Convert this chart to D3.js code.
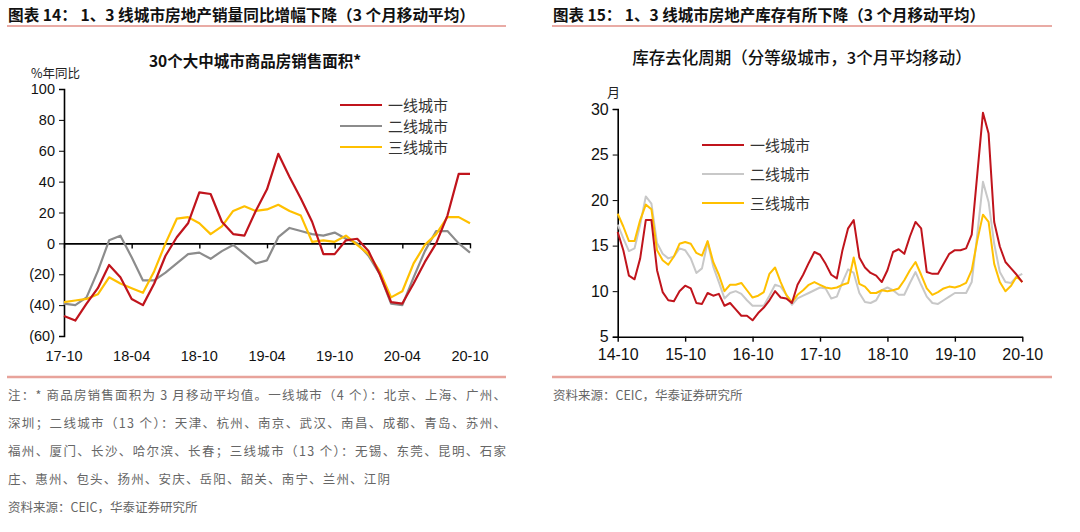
<!DOCTYPE html>
<html>
<head>
<meta charset="utf-8">
<script src="https://cdn.jsdelivr.net/npm/d3@7"></script>
<style>
  body { margin: 0; background: #fff; }
  svg { display: block; }
  .cjk { font-family: "Noto Sans CJK SC", sans-serif; }
  .num { font-family: "Liberation Sans", Arial, sans-serif; }
</style>
</head>
<body>
<svg id="chart"></svg>
<script>
// left chart: 30 city sales area, % yoy, 17-10 .. 20-10 monthly
const leftTicks = ["17-10", "18-04", "18-10", "19-04", "19-10", "20-04", "20-10"];
const leftYTicks = [-60, -40, -20, 0, 20, 40, 60, 80, 100];
const leftTier1 = [-47,-50,-39,-29,-14,-22,-36,-40,-26,-8,4,13,33,32,14,6,5,21,35,58,43,29,14,-7,-7,2,3,-5,-20,-38,-39,-26,-12,0,18,45,45];
const leftTier2 = [-39,-40,-35,-18,2,5,-9,-24,-24,-19,-13,-7,-6,-10,-5,-1,-7,-13,-11,4,10,8,6,5,7,3,0,-8,-20,-39,-40,-22,-5,8,8,0,-6];
const leftTier3 = [-38,-37,-36,-33,-22,-26,-29,-32,-18,0,16,17,13,6,11,21,24,21,22,25,21,18,1,2,1,5,-1,-7,-18,-35,-31,-13,-1,6,17,17,13];

// right chart: inventory cycle in months, 14-10 .. 20-10 monthly
const rightTicks = ["14-10", "15-10", "16-10", "17-10", "18-10", "19-10", "20-10"];
const rightYTicks = [5, 10, 15, 20, 25, 30];
const rightTier1 = [16.5,14.5,11.7,11.3,13.6,17.8,17.8,12.3,9.9,9.0,8.9,10.0,10.6,10.3,8.7,8.6,9.8,9.5,9.7,8.4,8.7,8.0,7.3,7.3,6.8,7.6,
  8.2,9.0,10.0,9.3,9.2,8.7,10.7,11.8,13.1,14.3,14.0,13.0,11.8,11.4,14.5,16.9,17.8,13.7,12.6,12.0,11.7,11.0,12.3,
  14.3,14.6,14.1,16.0,17.6,16.9,12.1,11.9,11.9,13.0,14.1,14.5,14.5,14.7,16.2,22.9,29.6,27.3,17.6,14.9,13.2,12.5,11.8,11.0];
const rightTier2 = [17.3,15.8,14.4,14.7,17.3,20.4,19.6,15.3,14.1,13.6,13.8,14.7,14.5,13.6,12.0,12.5,15.4,12.7,11.0,9.2,9.8,10.0,9.7,9.0,8.4,8.4,
  8.4,9.5,10.7,10.5,9.6,8.5,9.2,9.5,9.8,10.1,10.4,10.3,9.2,9.4,11.0,12.4,12.0,9.8,8.8,8.7,9.0,10.1,10.4,
  10.1,9.6,9.6,10.9,12.1,10.7,9.4,8.7,8.6,9.0,9.4,9.8,9.8,9.8,11.0,16.3,22.0,19.8,15.2,12.1,11.0,10.9,11.6,11.9];
const rightTier3 = [18.5,17.1,15.5,15.5,17.8,19.5,19.0,14.5,13.4,12.9,13.8,15.2,15.4,15.2,14.2,13.9,15.5,13.2,11.8,10.0,10.7,10.7,10.9,10.1,9.3,9.5,
  9.9,11.9,12.6,11.0,9.6,8.8,9.6,10.1,10.7,11.0,10.7,10.4,10.3,10.4,10.7,10.9,13.7,10.8,10.5,9.8,9.8,10.1,10.0,
  10.1,10.3,11.2,12.3,13.2,11.8,10.3,9.6,9.9,10.3,10.5,10.4,10.6,10.9,12.3,15.6,18.4,17.6,13.0,11.0,10.0,10.6,11.6,11.0];

const seriesNames = ["一线城市", "二线城市", "三线城市"];

const footLines = [
  "注：* 商品房销售面积为 3 月移动平均值。一线城市（4 个）：北京、上海、广州、",
  "深圳；二线城市（13 个）：天津、杭州、南京、武汉、南昌、成都、青岛、苏州、",
  "福州、厦门、长沙、哈尔滨、长春；三线城市（13 个）：无锡、东莞、昆明、石家",
  "庄、惠州、包头、扬州、安庆、岳阳、韶关、南宁、兰州、江阴"
];

const svgWidth = 1080, svgHeight = 532;
const svg = d3.select("#chart")
  .attr("width", svgWidth)
  .attr("height", svgHeight);

svg.append("rect").attr("width", svgWidth).attr("height", svgHeight).attr("fill", "#fff");

// headers + rule lines
function header(x0, x1, txt, len) {
  svg.append("text")
    .attr("class", "cjk")
    .attr("x", x0 + 1).attr("y", 20.5)
    .attr("textLength", len).attr("lengthAdjust", "spacingAndGlyphs")
    .style("font-size", "15.5px").style("font-weight", 700).style("fill", "#111")
    .text(txt);
  svg.append("line").attr("x1", x0).attr("x2", x1).attr("y1", 26).attr("y2", 26)
    .attr("stroke", "#d4584d").attr("stroke-width", 1.2);
  svg.append("line").attr("x1", x0).attr("x2", x1).attr("y1", 377).attr("y2", 377)
    .attr("stroke", "#e8a39b").attr("stroke-width", 2.5);
}
header(7, 506, "图表 14： 1、3 线城市房地产销量同比增幅下降（3 个月移动平均）", 467);
header(552, 1052, "图表 15： 1、3 线城市房地产库存有所下降（3 个月移动平均）", 432);

function legend(x, ys, colors) {
  seriesNames.forEach((name, i) => {
    svg.append("line").attr("x1", x).attr("x2", x + 42).attr("y1", ys[i]).attr("y2", ys[i])
      .attr("stroke", colors[i]).attr("stroke-width", 2.2);
    svg.append("text").attr("class", "cjk")
      .attr("x", x + 48).attr("y", ys[i] + 5.5)
      .style("font-size", "15px").style("fill", "#333")
      .text(name);
  });
}

// ---------- left chart ----------
const xL = d3.scaleLinear().domain([0, 36]).range([64, 470]);
const yL = d3.scaleLinear().domain([-60, 100]).range([336, 89]);

svg.append("text").attr("class", "cjk")
  .attr("x", 255).attr("y", 67).attr("text-anchor", "middle")
  .style("font-size", "15.5px").style("font-weight", 700).style("fill", "#111")
  .text("30个大中城市商品房销售面积*");
svg.append("text").attr("class", "cjk")
  .attr("x", 31).attr("y", 77.5)
  .style("font-size", "12.5px").style("fill", "#222")
  .text("%年同比");

const gyL = svg.append("g").attr("class", "num")
  .attr("transform", "translate(64,0)")
  .call(d3.axisLeft(yL).tickValues(leftYTicks).tickSize(5).tickPadding(4)
    .tickFormat(d => d < 0 ? "(" + (-d) + ")" : d));
gyL.select(".domain").attr("stroke-width", 1.6);
gyL.selectAll("text").style("font-size", "14.5px").style("font-family", "Liberation Sans, Arial").attr("fill", "#111");

const gxL = svg.append("g")
  .attr("transform", "translate(0," + yL(0) + ")")
  .call(d3.axisBottom(xL).tickValues(leftTicks.map((d, i) => i * 6)).tickSize(5).tickSizeOuter(0).tickFormat(""));
gxL.select(".domain").attr("stroke-width", 1.6);
gxL.selectAll("line").attr("stroke-width", 1.4);

svg.selectAll(".xlabL")
  .data(leftTicks)
  .enter()
  .append("text")
  .attr("class", "num")
  .attr("x", (d, i) => xL(i * 6))
  .attr("y", 361)
  .attr("text-anchor", "middle")
  .style("font-size", "14.5px").style("fill", "#111")
  .text(d => d);

const leftColors = ["#c0141c", "#8c8c8c", "#ffc000"];
const lineL = d3.line().x((d, i) => xL(i)).y(d => yL(d));
[leftTier2, leftTier3, leftTier1].forEach((s, k) => {
  const c = [leftColors[1], leftColors[2], leftColors[0]][k];
  svg.append("path").datum(s)
    .attr("d", lineL).attr("fill", "none")
    .attr("stroke", c).attr("stroke-width", 2.2).attr("stroke-linejoin", "round");
});
legend(340, [105, 126, 147], leftColors);

// ---------- right chart ----------
const xR = d3.scaleLinear().domain([0, 72]).range([617.7, 1022.3]);
const yR = d3.scaleLinear().domain([5, 30]).range([336.7, 109]);

svg.append("text").attr("class", "cjk")
  .attr("x", 802).attr("y", 64).attr("text-anchor", "middle")
  .style("font-size", "16.5px").style("font-weight", 500).style("fill", "#111")
  .text("库存去化周期（分等级城市，3个月平均移动）");
svg.append("text").attr("class", "cjk")
  .attr("x", 607).attr("y", 97)
  .style("font-size", "13px").style("fill", "#222")
  .text("月");

const gyR = svg.append("g")
  .attr("transform", "translate(617.7,0)")
  .call(d3.axisLeft(yR).tickValues(rightYTicks).tickSize(5).tickPadding(4));
gyR.select(".domain").attr("stroke-width", 1.6);
gyR.selectAll("text").style("font-size", "16px").style("font-family", "Liberation Sans, Arial").attr("fill", "#111");

const gxR = svg.append("g")
  .attr("transform", "translate(0,336.7)")
  .call(d3.axisBottom(xR).tickValues(rightTicks.map((d, i) => i * 12)).tickSize(5).tickSizeOuter(0).tickPadding(7)
    .tickFormat((d, i) => rightTicks[i]));
gxR.select(".domain").attr("stroke-width", 1.6);
gxR.selectAll("line").attr("stroke-width", 1.4);
gxR.selectAll("text").style("font-size", "16px").style("font-family", "Liberation Sans, Arial").attr("fill", "#111");

const rightColors = ["#c0141c", "#c8c8c8", "#ffc000"];
const lineR = d3.line().x((d, i) => xR(i)).y(d => yR(d));
[rightTier2, rightTier3, rightTier1].forEach((s, k) => {
  const c = [rightColors[1], rightColors[2], rightColors[0]][k];
  svg.append("path").datum(s)
    .attr("d", lineR).attr("fill", "none")
    .attr("stroke", c).attr("stroke-width", 2).attr("stroke-linejoin", "round");
});
legend(702, [145, 174, 203], rightColors);

// ---------- notes ----------
const footY = [400, 428, 456, 484];
footLines.forEach((t, i) => {
  const tx = svg.append("text").attr("class", "cjk")
    .attr("x", 8).attr("y", footY[i])
    .style("font-size", "12.5px").style("fill", "#666")
    .text(t);
  if (i < 3) tx.attr("textLength", 498).attr("lengthAdjust", "spacing");
  else tx.attr("textLength", 382).attr("lengthAdjust", "spacing");
});
svg.append("text").attr("class", "cjk")
  .attr("x", 8).attr("y", 512)
  .style("font-size", "12.5px").style("fill", "#666")
  .text("资料来源：CEIC，华泰证券研究所");
svg.append("text").attr("class", "cjk")
  .attr("x", 553).attr("y", 400)
  .style("font-size", "12.5px").style("fill", "#666")
  .text("资料来源：CEIC，华泰证券研究所");
</script>
</body>
</html>
